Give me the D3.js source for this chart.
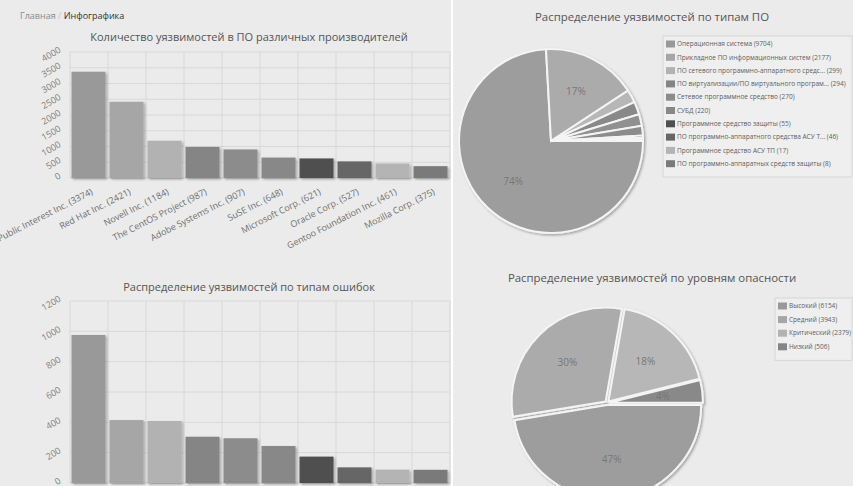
<!DOCTYPE html>
<html>
<head>
<meta charset="utf-8">
<script src="https://cdn.jsdelivr.net/npm/d3@7"></script>
<style>
body{margin:0;background:#ebebeb;}
svg text{font-family:"Open Sans",sans-serif;}
</style>
</head>
<body>
<svg id="chart" width="853" height="486"></svg>
<script>

/// data
var vendors = ["Software in the Public Interest Inc.", "Red Hat Inc.", "Novell Inc.", "The CentOS Project",
               "Adobe Systems Inc.", "SuSE Inc.", "Microsoft Corp.", "Oracle Corp.",
               "Gentoo Foundation Inc.", "Mozilla Corp."];
var vendorCounts = [3374, 2421, 1184, 987, 907, 648, 621, 527, 461, 375];
var vendorTicks = [0, 500, 1000, 1500, 2000, 2500, 3000, 3500, 4000];

var errorTypes = ["1", "2", "3", "4", "5", "6", "7", "8", "9", "10"];
var errorCounts = [976, 415, 409, 305, 295, 244, 174, 103, 88, 87];
var errorTicks = [0, 200, 400, 600, 800, 1000, 1200];

var softTypes = ["Операционная система", "Прикладное ПО информационных систем",
                 "ПО сетевого программно-аппаратного средс...", "ПО виртуализации/ПО виртуального програм...",
                 "Сетевое программное средство", "СУБД", "Программное средство защиты",
                 "ПО программно-аппаратного средства АСУ Т...", "Программное средство АСУ ТП",
                 "ПО программно-аппаратных средств защиты"];
var softCounts = [9704, 2177, 299, 294, 270, 220, 55, 46, 17, 8];

var levels = ["Высокий", "Средний", "Критический", "Низкий"];
var levelCounts = [6154, 3943, 2379, 506];

var palette = ["#999999", "#a6a6a6", "#b2b2b2", "#858585", "#8c8c8c",
               "#888888", "#4f4f4f", "#666666", "#b4b4b4", "#7a7a7a"];

var svg = d3.select("#chart");

var defs = svg.append("defs");
var f = defs.append("filter").attr("id", "shadow")
    .attr("x", "-10%").attr("y", "-10%").attr("width", "130%").attr("height", "130%");
f.append("feDropShadow").attr("dx", 1.5).attr("dy", 1.5).attr("stdDeviation", 1.2)
    .attr("flood-color", "#000").attr("flood-opacity", 0.3);

svg.append("rect").attr("width", 853).attr("height", 486).attr("fill", "#ebebeb");

/// breadcrumb
var bc = svg.append("text").attr("x", 20).attr("y", 19).style("font-size", "9px");
bc.append("tspan").attr("fill", "#8a8a8a").text("Главная");
bc.append("tspan").attr("fill", "#c4c4c4").text(" / ");
bc.append("tspan").attr("fill", "#333").text("Инфографика");

/// divider between columns
svg.append("line").attr("x1", 452).attr("x2", 452).attr("y1", 0).attr("y2", 486)
    .attr("stroke", "#fff").attr("stroke-width", 2);

/// bar chart helper
function barChart(cats, values, ticks, box, title, titleY, labels){
    var g = svg.append("g");

    var x = d3.scaleBand().domain(cats).range([box.left, box.right]).padding(0);
    var y = d3.scaleLinear().domain([0, ticks[ticks.length - 1]]).range([box.bottom, box.top]);

    g.append("text")
        .attr("x", 249).attr("y", titleY)
        .attr("text-anchor", "middle").attr("fill", "#555")
        .style("font-size", "11px").text(title);

    /// grid
    g.selectAll(".hgrid").data(ticks).enter().append("line")
        .attr("x1", box.left).attr("x2", box.right)
        .attr("y1", function(d){ return y(d); }).attr("y2", function(d){ return y(d); })
        .attr("stroke", function(d){ return d === 0 ? "#c8c8c8" : "#d8d8d8"; })
        .attr("stroke-width", 1);

    var vx = cats.map(function(c){ return x(c); }).concat([box.right]);
    g.selectAll(".vgrid").data(vx).enter().append("line")
        .attr("x1", function(d){ return d; }).attr("x2", function(d){ return d; })
        .attr("y1", box.top).attr("y2", box.bottom)
        .attr("stroke", "#d8d8d8").attr("stroke-width", 1);

    /// y labels
    g.selectAll(".ylab").data(ticks).enter().append("text")
        .attr("transform", function(d){ return "translate(" + (box.left - 10) + "," + (y(d) - 3) + ") rotate(-30)"; })
        .attr("text-anchor", "end").attr("dy", "0.35em")
        .attr("fill", "#808080").style("font-size", "9px")
        .text(function(d){ return d; });

    /// bars
    g.selectAll(".bar").data(values).enter().append("rect")
        .attr("x", function(d, i){ return x(cats[i]) + 1.5; })
        .attr("width", x.bandwidth() - 4)
        .attr("y", function(d){ return y(d); })
        .attr("height", function(d){ return box.bottom - y(d); })
        .attr("fill", function(d, i){ return palette[i]; })
        .attr("filter", "url(#shadow)");

    /// category labels
    if (labels){
        g.selectAll(".xlab").data(cats).enter().append("text")
            .attr("transform", function(d){
                return "translate(" + (x(d) + x.bandwidth() / 2 + 3) + "," + (box.bottom + 13) + ") rotate(-27)"; })
            .attr("text-anchor", "end").attr("dy", "0.35em")
            .attr("fill", "#707070").style("font-size", "9px")
            .text(function(d, i){ return d + " (" + values[i] + ")"; });
    }
}

barChart(vendors, vendorCounts, vendorTicks,
         {left: 70, right: 450, top: 52, bottom: 178},
         "Количество уязвимостей в ПО различных производителей", 41, true);

barChart(errorTypes, errorCounts, errorTicks,
         {left: 70, right: 450, top: 301, bottom: 483},
         "Распределение уязвимостей по типам ошибок", 291, false);

/// pie helper
function pieChart(names, values, cx, cy, r, offset, title, titleY, legendBox){
    var total = d3.sum(values);
    var pie = d3.pie().sort(null).startAngle(Math.PI / 2).endAngle(Math.PI / 2 + 2 * Math.PI);
    var arcs = pie(values);
    var arc = d3.arc().innerRadius(0).outerRadius(r);
    var labelArc = d3.arc().innerRadius(r * 0.6).outerRadius(r * 0.6);

    svg.append("text").attr("x", 652).attr("y", titleY)
        .attr("text-anchor", "middle").attr("fill", "#555")
        .style("font-size", "11.4px").text(title);

    var g = svg.append("g").attr("transform", "translate(" + cx + "," + cy + ")");

    g.append("g").attr("filter", "url(#shadow)")
      .selectAll("path").data(arcs).enter().append("path")
        .attr("transform", function(d){
            var a = (d.startAngle + d.endAngle) / 2;
            return "translate(" + (Math.sin(a) * offset) + "," + (-Math.cos(a) * offset) + ")"; })
        .attr("d", arc)
        .attr("fill", function(d, i){ return d3.color(palette[i]).brighter(0.08); })
        .attr("stroke", "#f4f4f4").attr("stroke-width", 2);

    g.selectAll(".pl").data(arcs.filter(function(d){ return d.value / total >= 0.03; }))
      .enter().append("text")
        .attr("transform", function(d){ return "translate(" + labelArc.centroid(d) + ")"; })
        .attr("text-anchor", "middle").attr("dy", "0.35em")
        .attr("fill", "#777").style("font-size", "10px")
        .text(function(d){ return Math.round(d.value / total * 100) + "%"; });

    /// legend
    var lg = svg.append("g");
    lg.append("rect").attr("x", legendBox.x).attr("y", legendBox.y)
        .attr("width", legendBox.w).attr("height", legendBox.step * names.length + 8)
        .attr("fill", "#efefef").attr("stroke", "#d6d6d6");

    var items = lg.selectAll(".li").data(names).enter().append("g")
        .attr("transform", function(d, i){
            return "translate(" + (legendBox.x + 3) + "," + (legendBox.y + 8 + i * legendBox.step) + ")"; });
    items.append("rect").attr("x", 0).attr("y", -3.5).attr("width", 9).attr("height", 7)
        .attr("fill", function(d, i){ return palette[i]; });
    items.append("text").attr("x", 11).attr("dy", "0.35em")
        .attr("fill", "#606060").style("font-size", "6.5px")
        .text(function(d, i){ return d + " (" + values[i] + ")"; });
}

pieChart(softTypes, softCounts, 551, 141, 92, 0,
         "Распределение уязвимостей по типам ПО", 21,
         {x: 663, y: 36, w: 189, step: 13.3});

pieChart(levels, levelCounts, 607, 403, 94, 2,
         "Распределение уязвимостей по уровням опасности", 282,
         {x: 775, y: 298, w: 77, step: 13.6});

</script>
</body>
</html>
